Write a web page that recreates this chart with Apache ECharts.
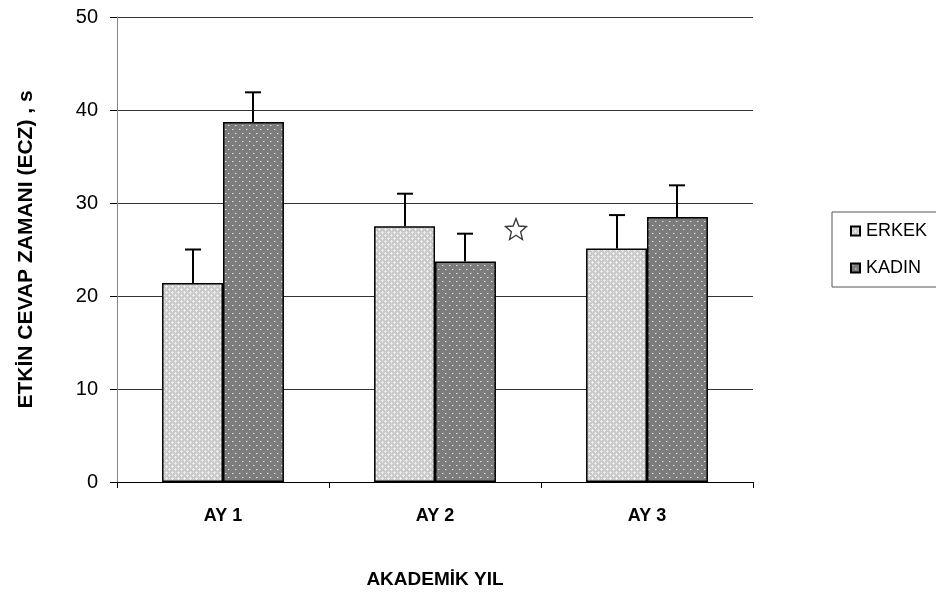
<!DOCTYPE html>
<html>
<head>
<meta charset="utf-8">
<script src="https://cdn.jsdelivr.net/npm/echarts@6/dist/echarts.min.js"></script>
<style>
  html, body { margin: 0; padding: 0; background: #fff; }
  #chart { width: 936px; height: 595px; }
</style>
</head>
<body>
<div id="chart"></div>
<script>
// Mean response time by academic year, with the upper standard-error whisker
const categories = ['AY 1', 'AY 2', 'AY 3'];
const seriesNames = ['ERKEK', 'KADIN'];
const erkekMean = [21.4, 27.5, 25.1];
const kadinMean = [38.7, 23.7, 28.5];
const erkekErr = [3.6, 3.5, 3.6];
const kadinErr = [3.2, 3.0, 3.4];
const yMin = 0, yMax = 50, yStep = 10;
// significance marker beside the AY 2 pair
const starPoint = [1, 27.2];

const BAR_GAP_RATIO = 0.425;

// Fill tiles for the two bar series
function makeTile(w, h, bg, draw) {
  const c = document.createElement('canvas');
  c.width = w; c.height = h;
  const g = c.getContext('2d');
  g.fillStyle = bg;
  g.fillRect(0, 0, w, h);
  draw(g);
  return c;
}
const lightTile = makeTile(6, 6, '#c9c9c9', function (g) {
  g.fillStyle = '#ececec';
  g.fillRect(1, 0, 1, 3); g.fillRect(0, 1, 3, 1);
  g.fillRect(4, 3, 1, 3); g.fillRect(3, 4, 3, 1);
  g.fillStyle = '#dadada';
  g.fillRect(4, 0, 1, 1); g.fillRect(1, 4, 1, 1);
});
const darkTile = makeTile(7, 8, '#7c7c7c', function (g) {
  g.fillStyle = '#e6e6e6';
  g.fillRect(1, 1, 1, 1);
  g.fillRect(4, 5, 1, 1);
  g.fillStyle = '#a8a8a8';
  g.fillRect(2, 1, 1, 1); g.fillRect(5, 5, 1, 1);
});

const errData = [];
for (let i = 0; i < categories.length; i++) {
  errData.push([i, erkekMean[i], erkekErr[i], 0]);
  errData.push([i, kadinMean[i], kadinErr[i], 1]);
}

function renderErr(params, api) {
  const ci = api.value(0), mean = api.value(1), err = api.value(2), side = api.value(3);
  const band = api.size([1, 0])[0];
  const bw = band * (1 - BAR_GAP_RATIO) / 2;
  const base = api.coord([ci, mean]);
  const top = api.coord([ci, mean + err]);
  const x = Math.round(base[0] + (side ? bw / 2 : -bw / 2));
  const cap = 8;
  return {
    type: 'group',
    children: [
      { type: 'line', shape: { x1: x, y1: base[1], x2: x, y2: top[1] }, style: { stroke: '#000', lineWidth: 2 } },
      { type: 'line', shape: { x1: x - cap, y1: top[1], x2: x + cap, y2: top[1] }, style: { stroke: '#000', lineWidth: 2 } }
    ]
  };
}

const starPath = 'path://M50 0 L62.93 32.2 L97.55 34.55 L70.92 56.8 L79.39 90.45 L50 72 L20.61 90.45 L29.08 56.8 L2.45 34.55 L37.07 32.2 Z';

const chart = echarts.init(document.getElementById('chart'), null, { renderer: 'canvas' });
chart.setOption({
  backgroundColor: '#fff',
  animation: false,
  textStyle: { fontFamily: 'Liberation Sans, Arial, sans-serif', color: '#000' },
  grid: { left: 117, right: 183, top: 17, bottom: 113 },
  legend: {
    orient: 'vertical',
    left: 832, top: 212,
    padding: [10, 40, 10, 18],
    itemWidth: 9, itemHeight: 9, itemGap: 19,
    backgroundColor: '#fff',
    borderColor: '#555', borderWidth: 1,
    icon: 'rect',
    textStyle: { fontSize: 18, color: '#000', padding: [0, 0, 0, 1] },
    data: seriesNames
  },
  xAxis: {
    type: 'category',
    data: categories,
    name: 'AKADEMİK YIL',
    nameLocation: 'middle',
    nameGap: 88,
    nameTextStyle: { fontSize: 19, fontWeight: 'bold', color: '#000' },
    axisLine: { lineStyle: { color: '#000', width: 1 } },
    axisTick: { show: true, length: 6, lineStyle: { color: '#000' } },
    axisLabel: { fontSize: 18, fontWeight: 'bold', color: '#000', margin: 25 }
  },
  yAxis: {
    type: 'value',
    min: yMin, max: yMax, interval: yStep,
    name: 'ETKİN CEVAP ZAMANI (ECZ) , s',
    nameLocation: 'middle',
    nameGap: 80,
    nameRotate: 90,
    nameTextStyle: { fontSize: 21, fontWeight: 'bold', color: '#000' },
    axisLine: { show: true, lineStyle: { color: '#888', width: 1 } },
    axisTick: { show: true, length: 7, lineStyle: { color: '#000' } },
    axisLabel: { fontSize: 20, color: '#000', margin: 19 },
    splitLine: { show: true, lineStyle: { color: '#333', width: 1 } }
  },
  series: [
    {
      name: 'ERKEK', type: 'bar', data: erkekMean,
      barGap: '0%', barCategoryGap: (BAR_GAP_RATIO * 100) + '%',
      itemStyle: { color: { image: lightTile, repeat: 'repeat' }, borderColor: '#000', borderWidth: 1.5 }
    },
    {
      name: 'KADIN', type: 'bar', data: kadinMean,
      itemStyle: { color: { image: darkTile, repeat: 'repeat' }, borderColor: '#000', borderWidth: 1.5 }
    },
    {
      name: 'hata', type: 'custom', data: errData, renderItem: renderErr,
      encode: { x: 0, y: 1 }, z: 5, silent: true
    },
    {
      name: 'yildiz', type: 'scatter', data: [starPoint],
      symbol: starPath, symbolSize: 21, symbolOffset: [81, 0],
      itemStyle: { color: 'rgba(0,0,0,0)', borderColor: '#000', borderWidth: 1.3 },
      z: 6, silent: true
    }
  ]
});
</script>
</body>
</html>
